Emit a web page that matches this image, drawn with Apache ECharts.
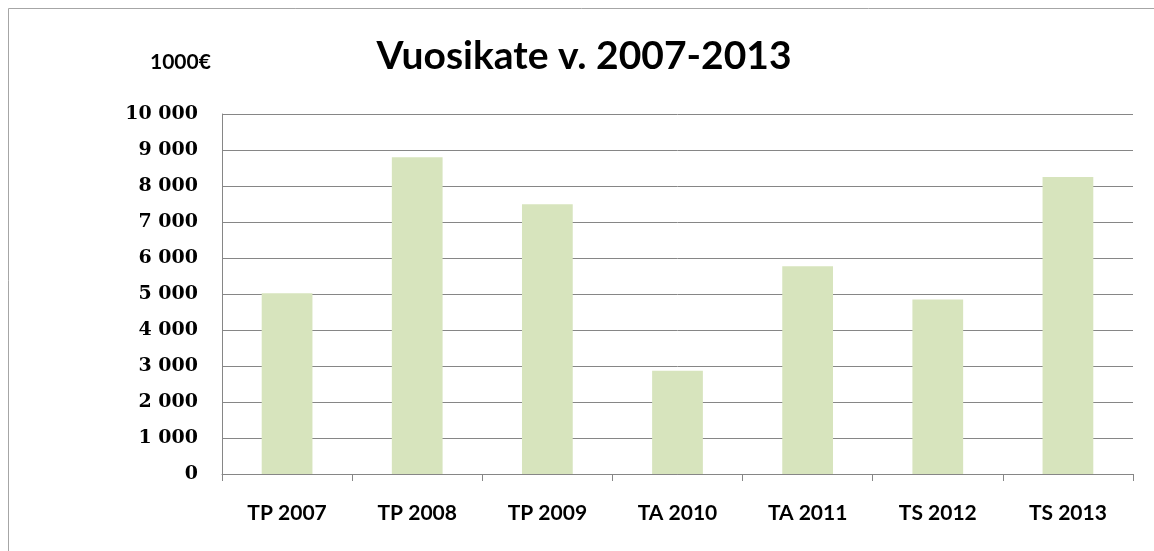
<!DOCTYPE html>
<html>
<head>
    <meta charset="utf-8">
    <title>Vuosikate v. 2007-2013</title>
    <script src="https://cdn.jsdelivr.net/npm/echarts@6/dist/echarts.min.js"></script>
    <style>
        html, body { margin: 0; padding: 0; background: #fff; }
        #chart1 { width: 1154px; height: 551px; }
    </style>
</head>
<body>
<div id="chart1"></div>
<script>
    // vuodet ja vuosikate (1000 €)
    var categories = ['TP 2007', 'TP 2008', 'TP 2009', 'TA 2010', 'TA 2011', 'TS 2012', 'TS 2013'];
    var vuosikate = [5020, 8800, 7490, 2870, 5770, 4850, 8250];
    var yTicks = [0, 1000, 2000, 3000, 4000, 5000, 6000, 7000, 8000, 9000, 10000];

    function fmt(v) {
        // tuhaterotin välilyönnillä: 10 000
        return String(v).replace(/\B(?=(\d{3})+(?!\d))/g, ' ');
    }

    var myChart1 = echarts.init(document.getElementById('chart1'));
    myChart1.setOption({
        animation: false,
        backgroundColor: '#fff',
        title: {
            text: 'Vuosikate v. 2007-2013',
            left: 579,
            top: 32,
            textAlign: 'center',
            textStyle: {
                fontFamily: 'Lato',
                fontWeight: 'bold',
                fontSize: 39,
                color: '#000'
            }
        },
        graphic: [
            {
                type: 'rect',
                shape: { x: 8.5, y: 8.5, width: 1160, height: 560 },
                style: { fill: 'none', stroke: '#a6a6a6', lineWidth: 1 }
            },
            {
                type: 'text',
                left: 150,
                top: 52,
                style: {
                    text: '1000€',
                    font: 'bold 21px Lato',
                    fill: '#000'
                }
            }
        ],
        grid: {
            left: 222,
            right: 21,
            top: 114,
            bottom: 77
        },
        xAxis: {
            type: 'category',
            data: categories,
            axisLine: { lineStyle: { color: '#868686', width: 1 } },
            axisTick: { show: true, length: 7, lineStyle: { color: '#868686' } },
            axisLabel: {
                margin: 29,
                fontFamily: 'Lato',
                fontWeight: 'bold',
                fontSize: 21,
                color: '#000'
            }
        },
        yAxis: {
            type: 'value',
            min: yTicks[0],
            max: yTicks[yTicks.length - 1],
            interval: 1000,
            axisLine: { show: true, lineStyle: { color: '#868686', width: 1 } },
            axisTick: { show: false },
            splitLine: { lineStyle: { color: '#868686', width: 1 } },
            axisLabel: {
                margin: 24,
                fontFamily: 'DejaVu Serif',
                fontWeight: 'bold',
                fontSize: 19,
                color: '#000',
                formatter: fmt
            }
        },
        series: [{
            name: 'Vuosikate',
            type: 'bar',
            data: vuosikate,
            barWidth: '39%',
            itemStyle: { color: '#d7e4bd' }
        }]
    });
</script>
</body>
</html>
